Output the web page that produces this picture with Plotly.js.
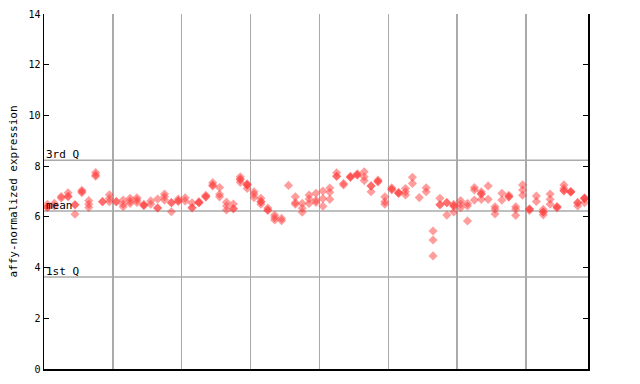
<!DOCTYPE html>
<html>
<head>
<meta charset="utf-8">
<script src="https://cdn.plot.ly/plotly-3.0.1.min.js"></script>
<style>html,body{margin:0;padding:0;background:#fff;}#chart{width:640px;height:384px;}</style>
</head>
<body>
<div id="chart"></div>
<script>
// expression values per sample (replicate points stacked at the same x)
const expr = [
  [6.5, 6.37, 6.37], [6.53, 6.43], [6.8, 6.74], [6.95, 6.8, 6.8], [6.48, 6.48, 6.1],
  [7.05, 7.0, 6.95], [6.64, 6.5, 6.37], [7.75, 7.65, 7.6], [6.6, 6.6], [6.87, 6.72, 6.6],
  [6.6, 6.6], [6.66, 6.5, 6.4], [6.73, 6.62, 6.53], [6.75, 6.66, 6.57], [6.5, 6.45, 6.45],
  [6.63, 6.5], [6.7, 6.35, 6.35], [6.9, 6.79, 6.66], [6.56, 6.56, 6.2], [6.7, 6.62, 6.62],
  [6.75, 6.63], [6.55, 6.36, 6.36], [6.6, 6.56, 6.56], [6.85, 6.79, 6.79], [7.35, 7.25, 7.22],
  [7.16, 6.89, 6.79], [6.58, 6.43, 6.27], [6.51, 6.32, 6.32], [7.58, 7.48, 7.48, 7.36], [7.3, 7.26, 7.26, 7.12],
  [6.99, 6.89, 6.76], [6.73, 6.6, 6.6, 6.5], [6.35, 6.26, 6.26], [6.07, 5.97, 5.88], [5.94, 5.85],
  [7.24], [6.79, 6.56, 6.5], [6.53, 6.34, 6.18], [6.86, 6.7, 6.53], [6.93, 6.65, 6.57],
  [7.02, 6.72, 6.42], [7.14, 6.97, 6.69], [7.74, 7.6, 7.6], [7.32, 7.26], [7.6, 7.56, 7.56],
  [7.7, 7.65, 7.65], [7.78, 7.58, 7.43], [7.22, 7.22, 6.99], [7.45, 7.39, 7.39], [6.79, 6.6, 6.5],
  [7.15, 7.08, 7.08], [6.97, 6.93, 6.93], [7.12, 6.99, 6.86], [7.56, 7.32], [6.76],
  [7.15, 6.99], [5.44, 5.09, 4.46], [6.73, 6.48, 6.48], [6.56, 6.56, 6.07], [6.5, 6.43, 6.43, 6.19],
  [6.64, 6.5, 6.36], [6.53, 6.43, 5.84], [7.16, 7.06, 6.66], [6.99, 6.9, 6.9, 6.69], [7.22, 6.69],
  [6.4, 6.3, 6.11], [6.93, 6.66], [6.85, 6.79, 6.79], [6.4, 6.3, 6.06], [7.26, 7.06, 6.85],
  [6.31, 6.31, 6.25], [6.82, 6.61], [6.3, 6.19, 6.19, 6.08], [6.9, 6.69, 6.5], [6.4, 6.4, 6.35],
  [7.26, 7.12, 7.03, 7.03], [7.0, 6.98, 6.98], [6.56, 6.56, 6.43], [6.75, 6.72, 6.72, 6.56]
];
const quartileLabels = ["3rd Q", "mean", "1st Q"];
const quartileValues = [8.23, 6.23, 3.63];
const yTicks = [0, 2, 4, 6, 8, 10, 12, 14];
const groupBreaks = [9.5, 19.5, 29.5, 39.5, 49.5, 59.5, 69.5];

const xs = [], ys = [];
expr.forEach((vals, i) => vals.forEach(v => { xs.push(i); ys.push(v); }));

const mono = "DejaVu Sans Mono, monospace";
const trace = {
  type: "scatter", mode: "markers", x: xs, y: ys,
  marker: {symbol: "diamond", size: 7, color: "rgba(255,60,60,0.5)", line: {width: 0}},
  hoverinfo: "skip"
};

const shapes = quartileValues.map(v => ({
  type: "line", xref: "paper", x0: 0, x1: 1, yref: "y", y0: v, y1: v,
  line: {color: "#aaaaaa", width: 1.5}, layer: "below"
}));
const annotations = quartileLabels.map((t, k) => ({
  xref: "paper", x: 0, xanchor: "left", yref: "y", y: quartileValues[k], yanchor: "bottom",
  text: t, showarrow: false, font: {family: mono, size: 11, color: "#000"}, yshift: -3
}));

const layout = {
  width: 640, height: 384,
  margin: {l: 44, r: 52, t: 14, b: 15},
  paper_bgcolor: "#fff", plot_bgcolor: "#fff",
  showlegend: false,
  xaxis: {
    range: [-0.5, expr.length - 0.5], tickvals: groupBreaks, showticklabels: false,
    ticks: "", showgrid: true, gridcolor: "#aaaaaa", gridwidth: 1.5,
    showline: true, linecolor: "#000", linewidth: 1.5, zeroline: false, fixedrange: true
  },
  yaxis: {
    range: [0, 14], tickvals: yTicks, ticktext: yTicks.map(String),
    ticks: "inside", ticklen: 5, tickcolor: "#000", showgrid: false,
    showline: true, linecolor: "#000", linewidth: 1.5, mirror: "ticks", zeroline: false,
    tickfont: {family: mono, size: 10, color: "#000"},
    title: {text: "affy-normalized expression", font: {family: mono, size: 11, color: "#000"}, standoff: 8},
    fixedrange: true
  },
  shapes: shapes, annotations: annotations
};
Plotly.newPlot("chart", [trace], layout, {displayModeBar: false, staticPlot: true});
</script>
</body>
</html>
